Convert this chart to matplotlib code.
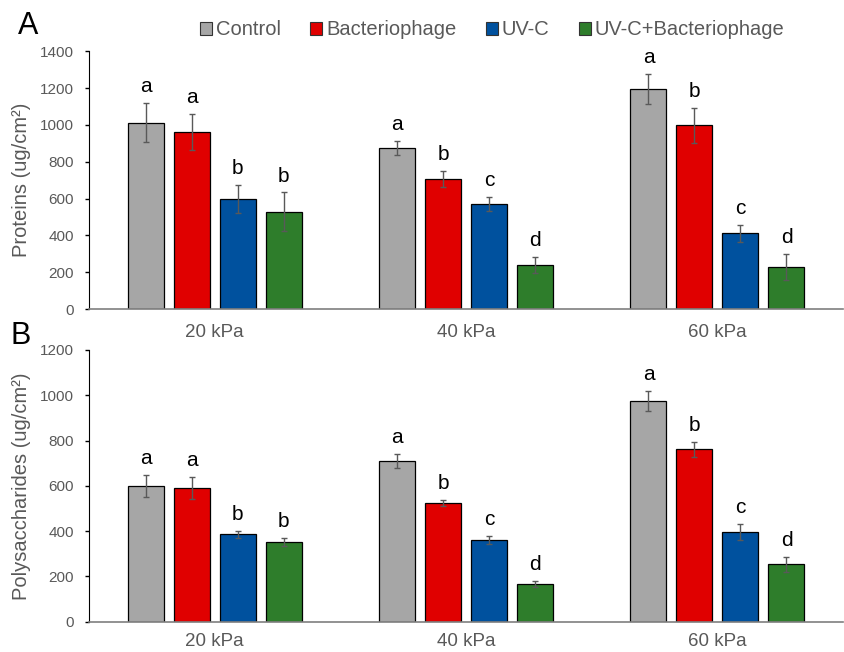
import numpy as np
import matplotlib
matplotlib.use('Agg')
import matplotlib.pyplot as plt
from matplotlib.patches import Patch

plt.rcParams['font.family'] = ['Liberation Sans', 'DejaVu Sans']

# data
groups = ['20 kPa', '40 kPa', '60 kPa']
treatments = ['Control', 'Bacteriophage', 'UV-C', 'UV-C+Bacteriophage']
colors = ['#A6A6A6', '#E00000', '#00519E', '#2E7D2B']

prot_mean = [[1012, 872, 1194],
             [961, 706, 998],
             [596, 568, 411],
             [528, 237, 228]]
prot_err = [[105, 38, 82],
            [100, 45, 96],
            [76, 38, 45],
            [105, 44, 70]]
prot_letters = [['a', 'a', 'a'],
                ['a', 'b', 'b'],
                ['b', 'c', 'c'],
                ['b', 'd', 'd']]

poly_mean = [[599, 711, 975],
             [592, 526, 761],
             [386, 361, 396],
             [351, 167, 253]]
poly_err = [[48, 31, 45],
            [48, 13, 34],
            [15, 19, 37],
            [17, 14, 34]]
poly_letters = [['a', 'a', 'a'],
                ['a', 'b', 'b'],
                ['b', 'c', 'c'],
                ['b', 'd', 'd']]

GRAY = '#595959'


def draw_panel(ax, means, errs, letters, ymax, ylabel, xpad):
    x = np.arange(len(groups))
    width = 0.143
    pitch = 0.183
    for i, name in enumerate(treatments):
        pos = x + (i - 1.5) * pitch
        ax.bar(pos, means[i], width, color=colors[i], edgecolor='black',
               linewidth=0.9, zorder=2)
        ax.errorbar(pos, means[i], yerr=errs[i], fmt='none', ecolor=GRAY,
                    elinewidth=1, capsize=2.5, capthick=1, zorder=3)
        for j in range(len(groups)):
            ax.annotate(letters[i][j], (pos[j], means[i][j] + errs[i][j]),
                        xytext=(0, 5), textcoords='offset points',
                        ha='center', va='bottom', fontsize=15, color='black')
    ax.set_xlim(-0.5, 2.5)
    ax.set_ylim(0, ymax)
    ax.set_yticks(np.arange(0, ymax + 1, 200))
    ax.set_xticks(x)
    ax.set_xticklabels(groups, fontsize=13.5, color=GRAY)
    ax.tick_params(axis='x', length=0, pad=xpad)
    ax.tick_params(axis='y', labelsize=11, labelcolor=GRAY, length=3,
                   width=1, direction='out', color='black', pad=8)
    ax.set_ylabel(ylabel, fontsize=14.5, color=GRAY, labelpad=6)
    for s in ['top', 'right']:
        ax.spines[s].set_visible(False)
    ax.spines['left'].set_color('black')
    ax.spines['bottom'].set_color('#7F7F7F')
    ax.spines['bottom'].set_linewidth(1.2)


fig = plt.figure(figsize=(8.44, 6.52), dpi=100)
axA = fig.add_axes([0.1055, 0.526, 0.8935, 0.3955])
axB = fig.add_axes([0.1055, 0.0465, 0.8935, 0.4167])

draw_panel(axA, prot_mean, prot_err, prot_letters, 1400, 'Proteins (ug/cm²)', 11)
draw_panel(axB, poly_mean, poly_err, poly_letters, 1200, 'Polysaccharides (ug/cm²)', 8.5)

fig.text(0.033, 0.960, 'A', fontsize=22, ha='center', va='center')
fig.text(0.024, 0.4847, 'B', fontsize=22, ha='center', va='center')

handles = [Patch(facecolor=c, edgecolor='#333333', linewidth=0.8) for c in colors]
fig.legend(handles, treatments, loc='center', bbox_to_anchor=(0.583, 0.954),
           ncol=4, frameon=False, fontsize=14.5, handlelength=0.6,
           handleheight=0.6, handletextpad=0.2, columnspacing=1.45,
           labelcolor=GRAY)

fig.savefig('out.png', dpi=100)
